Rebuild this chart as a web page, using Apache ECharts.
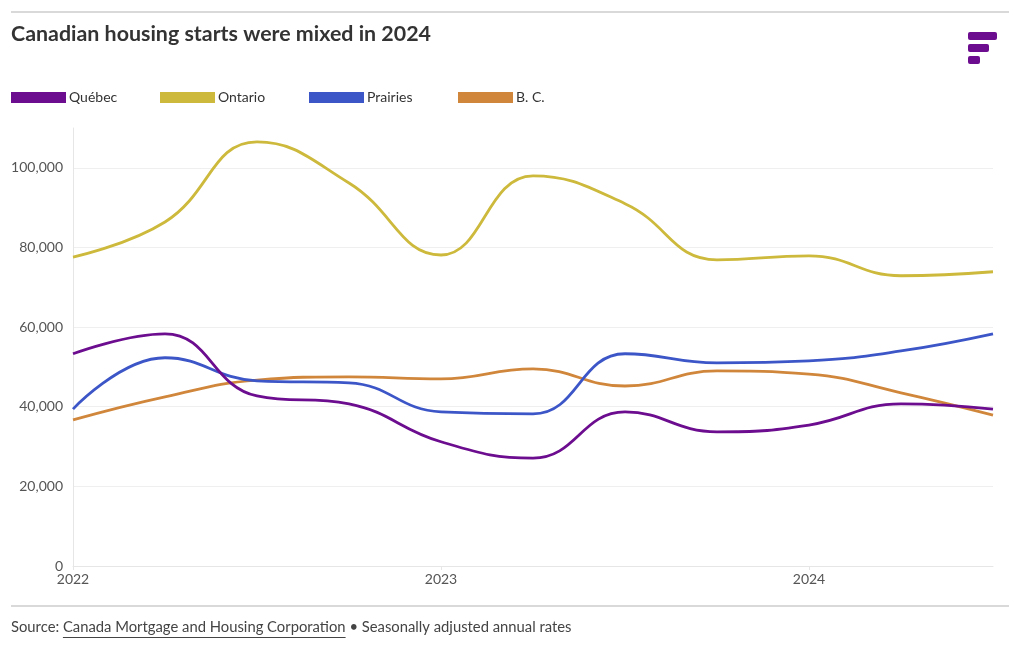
<!DOCTYPE html>
<html><head><meta charset="utf-8">
<script src="https://cdn.jsdelivr.net/npm/echarts@6/dist/echarts.min.js"></script>
<style>html,body{margin:0;padding:0;background:#fff;}#c{width:1020px;height:650px;}</style>
</head><body><div id="c"></div>
<script>
const quarters = [2022, 2022.25, 2022.5, 2022.75, 2023, 2023.25, 2023.5, 2023.75, 2024, 2024.25, 2024.5];
const seriesNames = ['Québec', 'Ontario', 'Prairies', 'B. C.'];
const quebec   = [53300, 58300, 42700, 40700, 31200, 27100, 38700, 33700, 35400, 40700, 39400];
const ontario  = [77600, 86400, 106500, 96200, 78100, 98000, 91000, 76900, 77900, 72900, 73900];
const prairies = [39400, 52300, 46500, 46000, 38700, 38200, 53300, 51000, 51500, 54000, 58300];
const bc       = [36700, 42500, 46700, 47500, 47000, 49500, 45200, 49000, 48200, 43500, 37900];
const yTicks = [0, 20000, 40000, 60000, 80000, 100000];
const xTicks = [2022, 2023, 2024];
const colors = ['#6c0c8e', '#cdb93b', '#3c56c8', '#d0873c'];
const values = [quebec, ontario, prairies, bc];

const font = 'Lato, "Open Sans", sans-serif';
const footFont = '14.8px ' + font;
const ctx = document.createElement('canvas').getContext('2d');
ctx.font = footFont;
const w = t => ctx.measureText(t).width;
const srcText = 'Source: ', linkText = 'Canada Mortgage and Housing Corporation', restText = ' \u2022 Seasonally adjusted annual rates';
const linkX = 11 + w(srcText), restX = linkX + w(linkText);

const chart = echarts.init(document.getElementById('c'));
const legendGraphics = [];
seriesNames.forEach((n, i) => {
  const x = 11 + i * 149;
  legendGraphics.push({type:'rect', left:x, top:92, shape:{width:55, height:11}, style:{fill:colors[i]}});
  legendGraphics.push({type:'text', left:x+58, top:90, style:{text:n, fill:'#333', font:'14px ' + font}});
});
chart.setOption({
  animation: false,
  textStyle: {fontFamily: font},
  grid: {left: 73, right: 27, top: 128, bottom: 84},
  xAxis: {
    type: 'value', min: 2022, max: 2024.5, interval: 1,
    axisLine: {show: true, lineStyle: {color: '#e6e6e6'}},
    axisTick: {show: true, length: 4, lineStyle: {color: '#e6e6e6'}, customValues: xTicks},
    axisLabel: {color: '#555', fontSize: 14, margin: 6, fontFamily: font, customValues: xTicks,
      formatter: v => String(Math.round(v))},
    splitLine: {show: false}
  },
  yAxis: {
    type: 'value', min: 0, max: 110000, interval: 20000,
    axisLine: {show: true, lineStyle: {color: '#e6e6e6'}},
    axisTick: {show: false, customValues: yTicks},
    axisLabel: {color: '#555', fontSize: 14, margin: 10, fontFamily: font, customValues: yTicks,
      formatter: v => v.toLocaleString('en-US')},
    splitLine: {show: true, lineStyle: {color: '#efefef'}}
  },
  series: values.map((d, i) => ({
    name: seriesNames[i], type: 'line', smooth: 0.45, symbol: 'none',
    lineStyle: {width: 2.8, color: colors[i]},
    data: d.map((v, j) => [quarters[j], v]),
    z: [4, 2, 3, 1][i]
  })),
  graphic: [
    {type:'line', shape:{x1:11, y1:12, x2:1009, y2:12}, style:{stroke:'#d9d9d9', lineWidth:2}},
    {type:'text', left:11, top:24, style:{text:'Canadian housing starts were mixed in 2024', fill:'#333', font:'bold 21.4px ' + font}},
    {type:'rect', left:968, top:32, shape:{width:29, height:8, r:2}, style:{fill:'#6c0c8e'}},
    {type:'rect', left:968, top:44, shape:{width:21, height:8, r:2}, style:{fill:'#6c0c8e'}},
    {type:'rect', left:968, top:56, shape:{width:12, height:8, r:2}, style:{fill:'#6c0c8e'}},
    ...legendGraphics,
    {type:'line', shape:{x1:11, y1:606, x2:1009, y2:606}, style:{stroke:'#d9d9d9', lineWidth:2}},
    {type:'text', left:11, top:620, style:{text:srcText, fill:'#444', font:footFont}},
    {type:'text', left:linkX, top:620, style:{text:linkText, fill:'#444', font:footFont}},
    {type:'line', shape:{x1:linkX, y1:637.5, x2:restX, y2:637.5}, style:{stroke:'#444', lineWidth:1}},
    {type:'text', left:restX, top:620, style:{text:restText, fill:'#444', font:footFont}}
  ]
});
</script></body></html>
